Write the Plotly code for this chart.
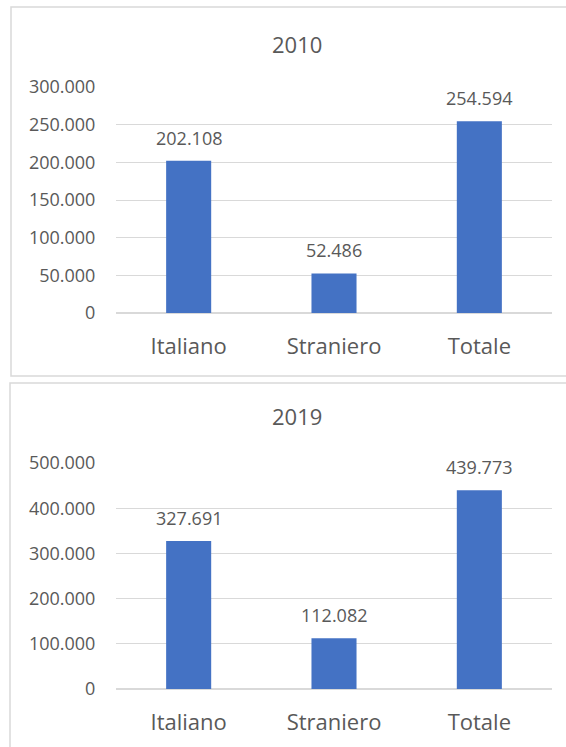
import plotly.graph_objects as go
from plotly.subplots import make_subplots

W, H = 566, 747

categories = ["Italiano", "Straniero", "Totale"]
values_2010 = [202108, 52486, 254594]
values_2019 = [327691, 112082, 439773]
years = ["2010", "2019"]
y_max = [300000, 500000]
y_step = [50000, 100000]

BAR_COLOR = "#4472C4"
TEXT_COLOR = "#595959"
GRID_COLOR = "#D9D9D9"
FONT = "Open Sans"


def px_x(x):
    return x / W


def px_y(y):
    return 1 - y / H


def add_year_panel(fig, row, values, year, ymax, ystep, title_y, box):
    """Adds one bordered bar panel (one year) to the figure."""
    fig.add_trace(
        go.Bar(
            x=categories,
            y=values,
            marker=dict(color=BAR_COLOR, line=dict(width=0)),
            width=0.31,
            showlegend=False,
            hoverinfo="skip",
        ),
        row=row, col=1,
    )
    # data labels above the bars
    suffix = str(row) if row > 1 else ""
    for cat, val in zip(categories, values):
        fig.add_annotation(
            x=cat, y=val, xref="x" + suffix, yref="y" + suffix,
            text="{:,}".format(val).replace(",", "."),
            showarrow=False, yanchor="middle", yshift=23,
            font=dict(family=FONT, size=18, color=TEXT_COLOR),
        )
    fig.add_annotation(
        x=px_x(297), y=px_y(title_y), xref="paper", yref="paper",
        text=year, showarrow=False, xanchor="center", yanchor="middle",
        font=dict(family=FONT, size=22, color=TEXT_COLOR),
    )
    fig.add_shape(
        type="rect", xref="paper", yref="paper",
        x0=px_x(box[0]), y0=px_y(box[1]), x1=px_x(box[2]), y1=px_y(box[3]),
        line=dict(color=GRID_COLOR, width=1.5), layer="below",
    )
    fig.update_yaxes(
        range=[0, ymax], dtick=ystep, tickformat=",d",
        showgrid=True, gridcolor=GRID_COLOR, gridwidth=1,
        zeroline=True, zerolinecolor=GRID_COLOR, zerolinewidth=1.5,
        showline=False, ticks="outside", ticklen=16, tickcolor="rgba(0,0,0,0)",
        tickfont=dict(family=FONT, size=18, color=TEXT_COLOR),
        automargin=False, fixedrange=True, row=row, col=1,
    )
    fig.update_xaxes(
        showgrid=False, showline=False, zeroline=False,
        ticks="outside", ticklen=14, tickcolor="rgba(0,0,0,0)",
        tickfont=dict(family=FONT, size=22, color=TEXT_COLOR),
        automargin=False, fixedrange=True, row=row, col=1,
    )


fig = make_subplots(rows=2, cols=1)

add_year_panel(fig, 1, values_2010, years[0], y_max[0], y_step[0], 44, (11, 7, 590, 376))
add_year_panel(fig, 2, values_2019, years[1], y_max[1], y_step[1], 416, (10, 383, 590, 780))

fig.update_layout(
    width=W, height=H,
    margin=dict(l=0, r=0, t=0, b=0),
    paper_bgcolor="white", plot_bgcolor="white",
    separators=",.",
    xaxis=dict(domain=[px_x(116), px_x(552)]),
    xaxis2=dict(domain=[px_x(116), px_x(552)]),
    yaxis=dict(domain=[px_y(313), px_y(87)]),
    yaxis2=dict(domain=[px_y(689), px_y(463)]),
)

# drop the default page margin so the figure sits at the window's corner
fig.write_html(
    "out.html",
    config={"displayModeBar": False},
    post_script="document.body.style.margin = '0';",
)
